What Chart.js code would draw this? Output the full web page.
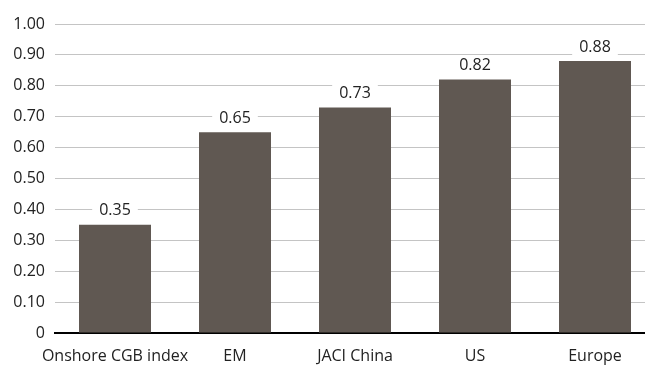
<!DOCTYPE html>
<html>
<head>
<meta charset="utf-8">
<script src="https://cdn.jsdelivr.net/npm/chart.js@4"></script>
<style>
  html, body { margin: 0; padding: 0; background: #fff; overflow: hidden; }
  #wrap { width: 655px; height: 367px; }
</style>
</head>
<body>
<div id="wrap"><canvas id="myChart"></canvas></div>
<script>
const categories = ['Onshore CGB index', 'EM', 'JACI China', 'US', 'Europe'];
const values = [0.35, 0.65, 0.73, 0.82, 0.88];

const barColor = '#605852';
const textColor = '#222222';
const fontFamily = '"Open Sans", "Noto Sans", sans-serif';

// value labels above bars, on a white box so the grid line is cut
const valueLabels = {
  id: 'valueLabels',
  afterDatasetsDraw(chart) {
    const ctx = chart.ctx;
    const meta = chart.getDatasetMeta(0);
    ctx.save();
    ctx.font = '16px ' + fontFamily;
    ctx.textAlign = 'center';
    ctx.textBaseline = 'middle';
    meta.data.forEach((bar, i) => {
      const txt = values[i].toFixed(2);
      const w = ctx.measureText(txt).width + 14;
      const y = bar.y - 15;
      ctx.fillStyle = '#fff';
      ctx.fillRect(bar.x - w / 2, y - 9, w, 18);
      ctx.fillStyle = textColor;
      ctx.fillText(txt, bar.x, y + 1);
    });
    ctx.restore();
  }
};

const c1 = document.getElementById('myChart');

new Chart(c1, {
  type: 'bar',
  data: {
    labels: categories,
    datasets: [{
      data: values,
      backgroundColor: barColor,
      barPercentage: 0.6,
      categoryPercentage: 1.0
    }]
  },
  options: {
    responsive: true,
    maintainAspectRatio: false,
    animation: false,
    layout: { padding: { top: 24, right: 0, left: 0, bottom: 0 } },
    plugins: {
      legend: { display: false },
      tooltip: { enabled: false }
    },
    scales: {
      x: {
        grid: { display: false, drawTicks: false },
        border: { display: true, color: '#000', width: 2 },
        ticks: {
          color: textColor,
          font: { family: fontFamily, size: 16 },
          padding: 14,
          maxRotation: 0,
          autoSkip: false
        },
        afterFit(scale) { scale.height = 34; }
      },
      y: {
        min: 0,
        max: 1,
        grid: { color: '#c4c4c4', lineWidth: 1, drawTicks: false },
        border: { display: false },
        ticks: {
          stepSize: 0.1,
          color: textColor,
          font: { family: fontFamily, size: 16 },
          padding: 10,
          callback: v => (v === 0 ? '0' : v.toFixed(2))
        },
        afterFit(scale) { scale.width = 55; }
      }
    }
  },
  plugins: [valueLabels]
});
</script>
</body>
</html>
